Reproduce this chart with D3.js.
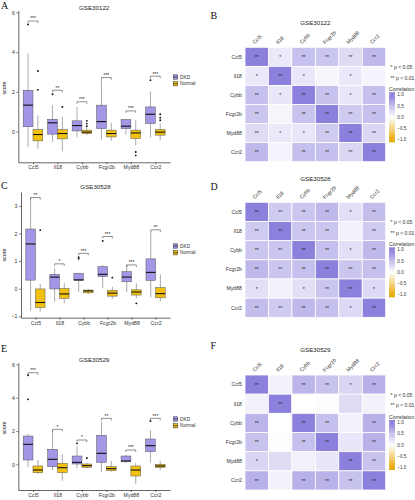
<!DOCTYPE html>
<html><head><meta charset="utf-8">
<script src="https://cdn.jsdelivr.net/npm/d3@7"></script>
<style>body{margin:0;background:#fff} svg{display:block;font-family:"Liberation Sans",Arial,sans-serif}</style>
</head><body>
<svg id="fig" width="415" height="500"></svg>
<script>
// ---------------- DATA ----------------
const genes = ["Ccl5","Il18","Cybb","Fcgr2b","Myd88","Ccr2"];
const groupNames = ["DKD","Normal"];
const titles = ["GSE30122","GSE30528","GSE30529"];
const sigLegend = ["* p < 0.05","** p < 0.01"];
const cbTicks = [1, 0.5, 0, -0.5, -1];
const cbLabels = ["1.0","0.5","0.0","\u22120.5","\u22121.0"];

// box stats per gene: [lower whisker, Q1, median, Q3, upper whisker]
// Panel A — GSE30122
const a_ticks = [0, 2, 4, 6];
const a_dkd = [
  [-0.77, 0.24, 1.33, 2.08, 3.93],
  [-0.52, -0.13, 0.44, 0.62, 1.33],
  [-0.27, 0.03, 0.30, 0.54, 1.24],
  [-0.40, 0.15, 0.50, 1.33, 2.59],
  [-0.15, 0.15, 0.27, 0.60, 0.65],
  [-0.30, 0.40, 0.87, 1.24, 2.02]];
const a_dkd_out = [[5.4], [1.88], [], [], [], [2.59]];
const a_normal = [
  [-0.86, -0.47, -0.15, 0.10, 0.82],
  [-1.00, -0.37, -0.10, 0.10, 0.74],
  [-0.18, -0.10, -0.03, 0.07, 0.20],
  [-0.47, -0.27, -0.10, 0.07, 0.44],
  [-0.69, -0.35, -0.07, 0.07, 0.57],
  [-0.44, -0.18, -0.03, 0.10, 0.40]];
const a_normal_out = [[3.05, 2.10], [1.24], [0.27, 0.40, 0.54], [], [-1.03, -1.20], [0.57, 0.70, 0.87]];
const a_sig_y = [5.57, 2.08, 1.50, 2.72, 1.04, 2.79];
const a_sig = ["***", "**", "***", "***", "***", "***"];

// Panel C — GSE30528
const c_ticks = [-1, 0, 1, 2, 3];
const c_dkd = [
  [-0.80, 0.31, 1.62, 2.16, 3.28],
  [-0.47, -0.01, 0.42, 0.52, 0.74],
  [-0.11, 0.30, 0.32, 0.56, 0.56],
  [0.01, 0.44, 0.52, 0.80, 0.86],
  [-0.13, 0.25, 0.42, 0.62, 0.86],
  [-0.31, 0.30, 0.59, 1.08, 2.07]];
const c_dkd_out = [[], [], [1.08, 1.14], [1.73], [], []];
const c_normal = [
  [-0.83, -0.68, -0.50, -0.01, 0.17],
  [-0.53, -0.35, -0.19, 0.01, 0.20],
  [-0.20, -0.15, -0.08, -0.05, -0.01],
  [-0.37, -0.27, -0.16, -0.06, 0.07],
  [-0.35, -0.23, -0.12, -0.04, 0.19],
  [-0.45, -0.33, -0.18, 0.04, 0.52]];
const c_normal_out = [[2.12], [], [], [0.40], [-0.53], []];
const c_sig_y = [3.30, 0.90, 1.28, 1.89, 0.86, 2.13];
const c_sig = ["**", "*", "***", "***", "***", "**"];

// Panel E — GSE30529
const e_ticks = [0, 2, 4, 6];
const e_dkd = [
  [-0.18, 0.26, 1.20, 1.70, 1.82],
  [-0.34, -0.14, 0.30, 0.90, 2.06],
  [-0.24, 0.02, 0.12, 0.50, 1.10],
  [-0.44, 0.12, 0.66, 1.74, 2.56],
  [0.06, 0.16, 0.20, 0.50, 0.56],
  [0.10, 0.76, 1.12, 1.52, 2.06]];
const e_dkd_out = [[5.35, 3.90], [], [1.26], [], [], [2.60]];
const e_normal = [
  [-0.58, -0.50, -0.34, -0.10, 0.26],
  [-0.98, -0.50, -0.20, 0.06, 0.62],
  [-0.22, -0.18, -0.08, 0.02, 0.10],
  [-0.44, -0.38, -0.26, -0.14, 0.20],
  [-1.20, -0.70, -0.34, -0.10, 0.10],
  [-0.34, -0.18, -0.10, 0.00, 0.20]];
const e_normal_out = [[], [], [0.38], [], [], []];
const e_sig_y = [5.50, 2.10, 1.46, 2.76, 0.86, 2.76];
const e_sig = ["***", "*", "*", "**", "***", "***"];

// Correlation heatmaps (rows/cols in gene order)
const b_corr = [
  [1.00, 0.18, 0.50, 0.45, 0.28, 0.55],
  [0.18, 1.00, 0.20, 0.08, 0.18, 0.09],
  [0.50, 0.20, 1.00, 0.48, 0.20, 0.50],
  [0.45, 0.08, 0.48, 1.00, 0.42, 0.50],
  [0.28, 0.18, 0.20, 0.42, 1.00, 0.32],
  [0.55, 0.09, 0.50, 0.50, 0.32, 1.00]];
const b_sig = [
  ["**", "*", "**", "**", "**", "**"],
  ["*", "**", "*", "", "*", ""],
  ["**", "*", "**", "**", "*", "**"],
  ["**", "", "**", "**", "**", "**"],
  ["**", "*", "*", "**", "**", "**"],
  ["**", "", "**", "**", "**", "**"]];
const d_corr = [
  [1.00, 0.42, 0.45, 0.55, 0.25, 0.52],
  [0.42, 1.00, 0.45, 0.45, 0.12, 0.42],
  [0.45, 0.45, 1.00, 0.50, 0.25, 0.55],
  [0.55, 0.45, 0.50, 1.00, 0.45, 0.50],
  [0.25, 0.12, 0.25, 0.45, 1.00, 0.30],
  [0.52, 0.42, 0.55, 0.50, 0.30, 1.00]];
const d_sig = [
  ["**", "**", "**", "**", "*", "**"],
  ["**", "**", "**", "**", "", "**"],
  ["**", "**", "**", "**", "*", "**"],
  ["**", "**", "**", "**", "**", "**"],
  ["*", "", "*", "**", "**", "*"],
  ["**", "**", "**", "**", "*", "**"]];
const f_corr = [
  [1.00, 0.12, 0.58, 0.48, 0.33, 0.62],
  [0.12, 1.00, 0.00, 0.02, 0.28, 0.10],
  [0.58, 0.00, 1.00, 0.50, 0.12, 0.62],
  [0.48, 0.02, 0.50, 1.00, 0.20, 0.60],
  [0.33, 0.28, 0.12, 0.20, 1.00, 0.48],
  [0.62, 0.10, 0.62, 0.60, 0.48, 1.00]];
const f_sig = [
  ["**", "", "**", "**", "*", "**"],
  ["", "**", "", "", "", ""],
  ["**", "", "**", "**", "", "**"],
  ["**", "", "**", "**", "", "**"],
  ["*", "", "", "", "**", "**"],
  ["**", "", "**", "**", "**", "**"]];

// ---------------- STYLE / LAYOUT ----------------
const groupColors = ["#a197e6", "#f2c10f"];
const heatColor = d3.scaleLinear().domain([-1, 0, 1]).range(["#e8a90a", "#ffffff", "#8b80db"]).clamp(true);
const FONT = "'Liberation Sans', Arial, sans-serif";
const SERIF = "'Liberation Serif', 'Times New Roman', serif";
const svg = d3.select("#fig");

const boxLayout = [
  {left: 18.3, right: 170, top: 10.5, bottom: 162.3, domain: [-1.55, 6.1], titleY: 9.6, letter: "A", letterY: 8.5, scoreY: 88, legY: 77},
  {left: 21, right: 170, top: 192, bottom: 317.7, domain: [-1.05, 3.5], titleY: 189, letter: "C", letterY: 189, scoreY: 255, legY: 246},
  {left: 18.3, right: 170, top: 362.7, bottom: 490, domain: [-1.54, 6.1], titleY: 361.6, letter: "E", letterY: 351.8, scoreY: 428, legY: 419}
];
const heatLayout = [
  {left: 245, right: 385.7, top: 47.3, bottom: 161.7, titleY: 25.3, letter: "B", letterY: 18.5},
  {left: 245, right: 385.7, top: 202.3, bottom: 317.3, titleY: 180.6, letter: "D", letterY: 190},
  {left: 245, right: 385.7, top: 375, bottom: 490, titleY: 351.8, letter: "F", letterY: 348.5}
];

function styleAxis(a) {
  a.select(".domain").attr("stroke", "#000").attr("stroke-width", 0.6);
  a.selectAll(".tick line").attr("stroke", "#000").attr("stroke-width", 0.5);
  a.selectAll(".tick text").attr("font-size", 5.2).attr("fill", "#333").attr("font-family", FONT);
}

function drawBoxPanel(L, title, dkd, dkdOut, nor, norOut, sigY, sigLab, ticks) {
  const g = svg.append("g");
  const x = d3.scalePoint().domain(genes).range([L.left, L.right]).padding(0.6);
  const y = d3.scaleLinear().domain(L.domain).range([L.bottom, L.top]);
  const step = x.step(), bw = step * 0.4;

  const ya = g.append("g").attr("transform", `translate(${L.left},0)`)
    .call(d3.axisLeft(y).tickValues(ticks).tickSize(2).tickSizeOuter(0).tickPadding(1.5).tickFormat(d3.format("d")));
  styleAxis(ya);
  const xa = g.append("g").attr("transform", `translate(0,${L.bottom})`)
    .call(d3.axisBottom(x).tickSize(2).tickSizeOuter(0).tickPadding(1.5));
  styleAxis(xa);

  const groups = [
    {stats: dkd, out: dkdOut, off: -0.2, color: groupColors[0]},
    {stats: nor, out: norOut, off: 0.2, color: groupColors[1]}
  ];
  groups.forEach(grp => {
    const items = genes.map((gene, i) => ({gene, s: grp.stats[i], out: grp.out[i], cx: x(gene) + grp.off * step}));
    const bg = g.append("g");
    bg.selectAll("line.wh").data(items).join("line")
      .attr("x1", d => d.cx).attr("x2", d => d.cx)
      .attr("y1", d => y(d.s[0])).attr("y2", d => y(d.s[4]))
      .attr("stroke", "#555").attr("stroke-width", 0.5);
    bg.selectAll("rect").data(items).join("rect")
      .attr("x", d => d.cx - bw / 2).attr("width", bw)
      .attr("y", d => y(d.s[3])).attr("height", d => Math.max(0.6, y(d.s[1]) - y(d.s[3])))
      .attr("fill", grp.color).attr("stroke", "#555").attr("stroke-width", 0.5);
    bg.selectAll("line.med").data(items).join("line")
      .attr("x1", d => d.cx - bw / 2).attr("x2", d => d.cx + bw / 2)
      .attr("y1", d => y(d.s[2])).attr("y2", d => y(d.s[2]))
      .attr("stroke", "#111").attr("stroke-width", 1.1);
    const outs = items.flatMap(d => d.out.map(v => ({cx: d.cx, v})));
    bg.selectAll("circle").data(outs).join("circle")
      .attr("cx", d => d.cx).attr("cy", d => y(d.v)).attr("r", 0.95).attr("fill", "#111");
  });

  // significance brackets
  genes.forEach((gene, i) => {
    const x1 = x(gene) - 0.2 * step, x2 = x(gene) + 0.2 * step, yy = y(sigY[i]);
    g.append("path").attr("d", `M${x1},${yy + 2}V${yy}H${x2}V${yy + 2}`)
      .attr("fill", "none").attr("stroke", "#222").attr("stroke-width", 0.5);
    g.append("text").attr("x", (x1 + x2) / 2).attr("y", yy - 0.6)
      .attr("text-anchor", "middle").attr("font-size", 4.8).attr("fill", "#222").text(sigLab[i]);
  });

  // title, letter, axis label
  g.append("text").attr("x", (L.left + L.right) / 2).attr("y", L.titleY).attr("text-anchor", "middle")
    .attr("font-size", 6.2).attr("fill", "#222").text(title);
  g.append("text").attr("x", 1).attr("y", L.letterY).attr("font-family", SERIF)
    .attr("font-size", 10).attr("fill", "#111").text(L.letter);
  g.append("text").attr("transform", `translate(5.8,${L.scoreY}) rotate(-90)`).attr("text-anchor", "middle")
    .attr("font-size", 5.4).attr("fill", "#222").text("score");

  // legend
  groupNames.forEach((nm, k) => {
    const cy = L.legY + k * 6.7;
    g.append("rect").attr("x", 173.3).attr("y", cy - 2.2).attr("width", 4.4).attr("height", 4.4)
      .attr("fill", groupColors[k]).attr("stroke", "#333").attr("stroke-width", 0.5);
    g.append("line").attr("x1", 173.3).attr("x2", 177.7).attr("y1", cy).attr("y2", cy)
      .attr("stroke", "#111").attr("stroke-width", 0.6);
    g.append("text").attr("x", 180).attr("y", cy + 1.7).attr("font-size", 4.8).attr("fill", "#333").text(nm);
  });
}

function drawHeat(L, title, corr, sig, idx) {
  const g = svg.append("g");
  const xb = d3.scaleBand().domain(genes).range([L.left, L.right]);
  const yb = d3.scaleBand().domain(genes).range([L.top, L.bottom]);
  const cells = [];
  genes.forEach((r, i) => genes.forEach((c, j) => cells.push({r, c, v: corr[i][j], s: sig[i][j]})));
  g.selectAll("rect.cell").data(cells).join("rect")
    .attr("x", d => xb(d.c)).attr("y", d => yb(d.r))
    .attr("width", xb.bandwidth()).attr("height", yb.bandwidth())
    .attr("fill", d => heatColor(d.v)).attr("stroke", "#fff").attr("stroke-width", 0.8);
  g.selectAll("text.sig").data(cells.filter(d => d.s)).join("text")
    .attr("x", d => xb(d.c) + xb.bandwidth() / 2).attr("y", d => yb(d.r) + yb.bandwidth() / 2 + 2.1)
    .attr("text-anchor", "middle").attr("font-size", 5).attr("fill", "#222").text(d => d.s);
  // row labels
  g.selectAll("text.row").data(genes).join("text")
    .attr("x", L.left - 3).attr("y", d => yb(d) + yb.bandwidth() / 2 + 1.8)
    .attr("text-anchor", "end").attr("font-size", 5.2).attr("fill", "#333").text(d => d);
  // column labels
  g.selectAll("text.col").data(genes).join("text")
    .attr("transform", d => `translate(${xb(d) + xb.bandwidth() / 2 - 2},${L.top - 3}) rotate(-45)`)
    .attr("font-size", 5.2).attr("fill", "#333").text(d => d);
  // title & letter
  g.append("text").attr("x", (L.left + L.right) / 2).attr("y", L.titleY).attr("text-anchor", "middle")
    .attr("font-size", 6.2).attr("fill", "#222").text(title);
  g.append("text").attr("x", 210.5).attr("y", L.letterY).attr("font-family", SERIF)
    .attr("font-size", 10).attr("fill", "#111").text(L.letter);
  // significance legend
  sigLegend.forEach((t, k) => {
    g.append("text").attr("x", 390.5).attr("y", L.top + 19.7 + k * 10.8 + 1.8)
      .attr("font-size", 5.1).attr("fill", "#333").text(t);
  });
  g.append("text").attr("x", 389).attr("y", L.top + 42 + 1.8).attr("font-size", 5.2).attr("fill", "#333").text("Correlation");
  // colour bar
  const barTop = L.top + 45, barBot = L.top + 95;
  const cb = d3.scaleLinear().domain([-1, 1]).range([L.top + 92.5, L.top + 47.5]);
  const gid = "cbgrad" + idx;
  const grad = svg.append("defs").append("linearGradient").attr("id", gid)
    .attr("x1", 0).attr("x2", 0).attr("y1", 0).attr("y2", 1);
  d3.range(0, 1.0001, 0.05).forEach(o => {
    grad.append("stop").attr("offset", o).attr("stop-color", heatColor(cb.invert(barTop + o * (barBot - barTop))));
  });
  g.append("rect").attr("x", 389).attr("y", barTop).attr("width", 6).attr("height", barBot - barTop)
    .attr("fill", `url(#${gid})`);
  cbTicks.forEach((v, k) => {
    const yy = cb(v);
    g.append("line").attr("x1", 389).attr("x2", 390.2).attr("y1", yy).attr("y2", yy).attr("stroke", "#fff").attr("stroke-width", 0.5);
    g.append("line").attr("x1", 393.8).attr("x2", 395).attr("y1", yy).attr("y2", yy).attr("stroke", "#fff").attr("stroke-width", 0.5);
    g.append("text").attr("x", 397.3).attr("y", yy + 1.6).attr("font-size", 4.6).attr("fill", "#333").text(cbLabels[k]);
  });
}

drawBoxPanel(boxLayout[0], titles[0], a_dkd, a_dkd_out, a_normal, a_normal_out, a_sig_y, a_sig, a_ticks);
drawBoxPanel(boxLayout[1], titles[1], c_dkd, c_dkd_out, c_normal, c_normal_out, c_sig_y, c_sig, c_ticks);
drawBoxPanel(boxLayout[2], titles[2], e_dkd, e_dkd_out, e_normal, e_normal_out, e_sig_y, e_sig, e_ticks);
drawHeat(heatLayout[0], titles[0], b_corr, b_sig, 0);
drawHeat(heatLayout[1], titles[1], d_corr, d_sig, 1);
drawHeat(heatLayout[2], titles[2], f_corr, f_sig, 2);
</script>
</body></html>
